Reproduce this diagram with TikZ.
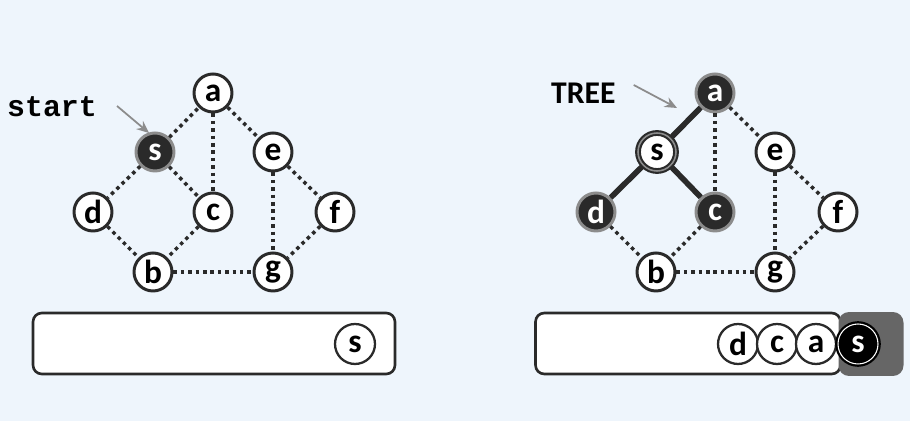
\documentclass[tikz,border=0pt]{standalone}
\usepackage{fontspec}
\setmainfont{Carlito}
\newfontfamily\codefont{Liberation Mono}
\usetikzlibrary{arrows.meta,positioning,calc}

\definecolor{bg}{HTML}{EEF5FC}
\definecolor{ink}{HTML}{2A2A2A}
\definecolor{halo}{HTML}{8C8C8C}
\definecolor{slot}{HTML}{666666}

\tikzset{
  vertex/.style={circle,draw=ink,line width=1.7pt,fill=white,minimum size=0.76cm,
    inner sep=0pt,font=\fontsize{19}{19}\selectfont\bfseries},
  visited/.style={vertex,fill=ink,draw=halo,text=white},
  current/.style={vertex,draw=ink,line width=1.2pt,double=halo,double distance=0.9pt},
  link/.style={ink,line width=2pt,dash pattern=on 2pt off 2.2pt},
  treelink/.style={ink,line width=3.2pt},
  pointer/.style={halo,line width=1pt,-{Stealth[length=7pt,width=6pt]}},
  queue/.style={draw=ink,line width=1.5pt,fill=white,rounded corners=5pt,inner sep=0pt},
  item/.style={circle,draw=ink,line width=1.3pt,fill=white,minimum size=0.8cm,
    inner sep=0pt,font=\fontsize{19}{19}\selectfont\bfseries},
  front/.style={item,fill=black,draw=black,double=white,double distance=0.6pt,text=white},
}

\begin{document}
\begin{tikzpicture}[x=0.02cm,y=-0.02cm]
  \fill[bg] (0,0) rectangle (910,421);
  \useasboundingbox (0,0) rectangle (910,421);

  % left graph: start at s
  \node[visited] (Ls) at (155,152) {s};
  \foreach \n/\x/\y in {a/213/93,e/273/152,d/93/212,c/213/212,f/335/212,b/153/272,g/273/272} {
    \node[vertex] (L\n) at (\x,\y) {\n};
  }
  \foreach \u/\v in {s/a,a/c,a/e,s/d,s/c,d/b,c/b,e/g,e/f,f/g,b/g} {
    \draw[link] (L\u) -- (L\v);
  }
  \node[font=\fontsize{17}{17}\selectfont\codefont\bfseries,anchor=west] (start) at (1,107) {start};
  \coordinate (startend) at (149,133);
  \draw[pointer] ($(start.east)+(14,-1)$) -- (startend);

  % right graph: tree grown from s
  \node[current] (Rs) at (657,152) {s};
  \foreach \n/\x/\y in {a/715/93,d/596/212,c/715/212} {
    \node[visited] (R\n) at (\x,\y) {\n};
  }
  \foreach \n/\x/\y in {e/775/152,f/838/212,b/656/272,g/775/272} {
    \node[vertex] (R\n) at (\x,\y) {\n};
  }
  \foreach \u/\v in {a/s,s/d,s/c} {
    \draw[treelink] (R\u) -- (R\v);
  }
  \foreach \u/\v in {a/c,a/e,d/b,c/b,e/g,e/f,f/g,b/g} {
    \draw[link] (R\u) -- (R\v);
  }
  \node[font=\fontsize{18}{18}\selectfont\bfseries,anchor=west] (tree) at (545,93) {TREE};
  \coordinate (treeend) at (677,108);
  \draw[pointer] ($(tree.east)+(12,-8)$) -- (treeend);

  % queues
  \node[queue,minimum width=7.24cm,minimum height=1.22cm] (Lq) at (214,343.5) {};
  \node[item] (Lqs) at (355,344) {s};

  \node[queue,minimum width=6.1cm,minimum height=1.22cm] (Rq) at (688,343.5) {};
  \node[fill=slot,rounded corners=6pt,minimum width=1.3cm,minimum height=1.28cm] (Rslot) at (871,344) {};
  \foreach \n/\x in {d/738,c/777,a/816} {
    \node[item] (Rq\n) at (\x,344) {\n};
  }
  \node[front] (Rqs) at (858,344) {s};
\end{tikzpicture}
\end{document}
